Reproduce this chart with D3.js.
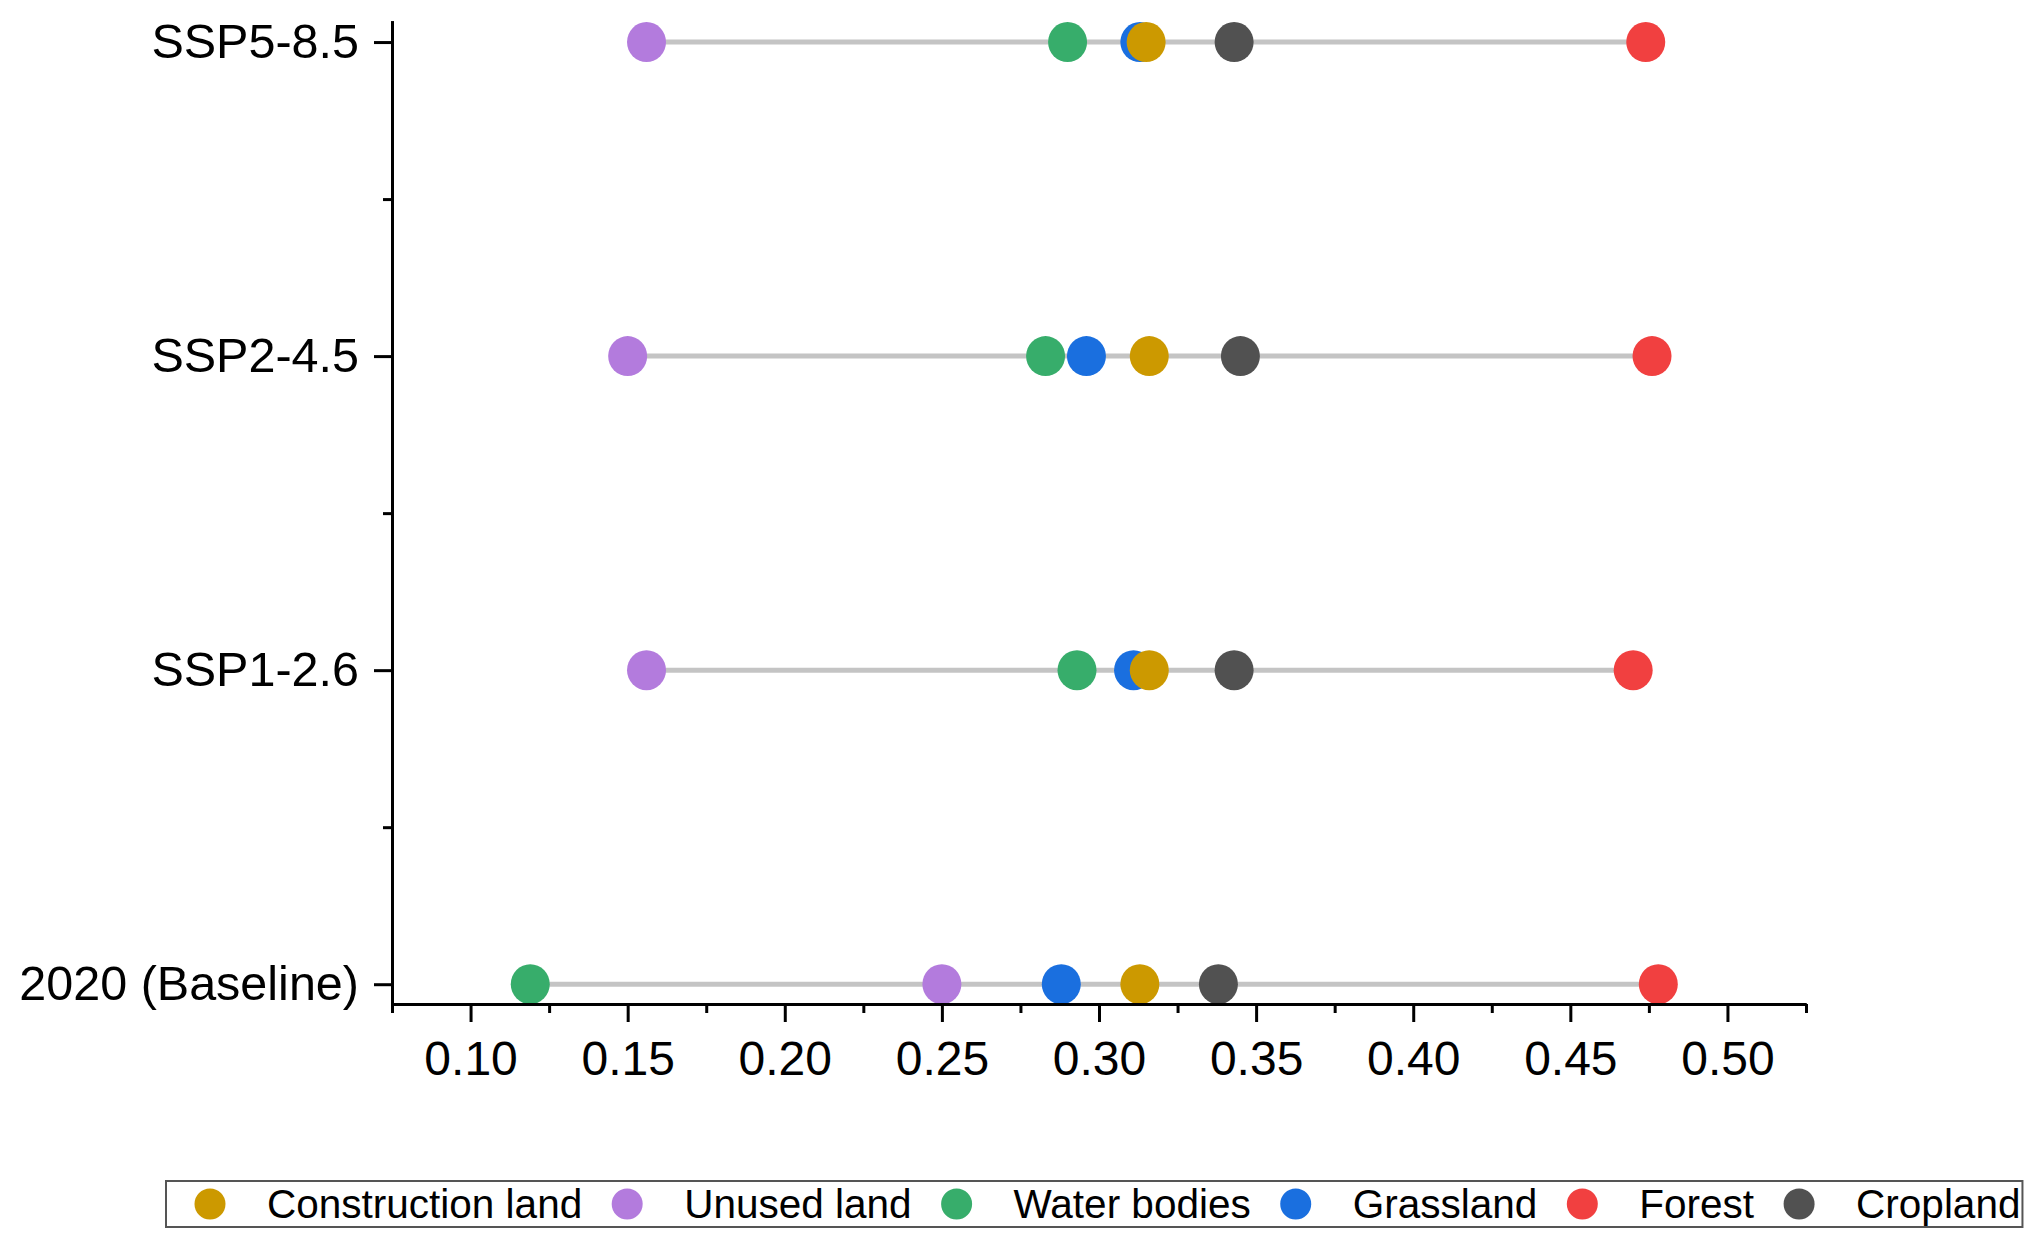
<!DOCTYPE html>
<html>
<head>
<meta charset="utf-8">
<script src="https://cdn.jsdelivr.net/npm/d3@7"></script>
<style>
    body { margin: 0; background: #fff; }
    svg { display: block; font-family: "Liberation Sans", Arial, sans-serif; }
    .axis path, .axis line { stroke: #000; stroke-width: 3; }
</style>
</head>
<body>
<div id="chart"></div>
<script>
// Scenarios, bottom to top
const scenarios = ["2020 (Baseline)", "SSP1-2.6", "SSP2-4.5", "SSP5-8.5"];

// Land types in legend order
const landTypes = ["Construction land", "Unused land", "Water bodies", "Grassland", "Forest", "Cropland"];
const landColors = ["#cc9900", "#b37bdd", "#37ad6b", "#1a6fdf", "#f14040", "#515151"];

// Values per land type, same order as scenarios
const constructionLand = [0.313, 0.316, 0.316, 0.315];
const unusedLand       = [0.250, 0.156, 0.150, 0.156];
const waterBodies      = [0.119, 0.293, 0.283, 0.290];
const grassland        = [0.288, 0.311, 0.296, 0.313];
const forest           = [0.478, 0.470, 0.476, 0.474];
const cropland         = [0.338, 0.343, 0.345, 0.343];

const seriesValues = [constructionLand, unusedLand, waterBodies, grassland, forest, cropland];

// x tick labels
const xMajorTicks = [0.10, 0.15, 0.20, 0.25, 0.30, 0.35, 0.40, 0.45, 0.50];
const xMinorTicks = [0.075, 0.125, 0.175, 0.225, 0.275, 0.325, 0.375, 0.425, 0.475, 0.525];

const width = 2037, height = 1244;

const svg = d3.select("#chart")
    .append("svg")
    .attr("width", width)
    .attr("height", height);

// Scales
const x = d3.scaleLinear()
    .domain([0.075, 0.525])
    .range([392, 1806]);

const y = d3.scaleLinear()
    .domain([-0.063, 3.068])
    .range([1004, 20.7]);

// Flatten into points
const points = [];
landTypes.forEach((lt, j) => {
    scenarios.forEach((s, i) => {
        points.push({ type: lt, color: landColors[j], order: j, idx: i, value: seriesValues[j][i] });
    });
});

// Range lines per scenario
const ranges = scenarios.map((s, i) => {
    const ext = d3.extent(seriesValues, v => v[i]);
    return { idx: i, min: ext[0], max: ext[1] };
});

svg.append("g")
    .selectAll("line")
    .data(ranges)
    .join("line")
    .attr("x1", d => x(d.min))
    .attr("x2", d => x(d.max))
    .attr("y1", d => y(d.idx))
    .attr("y2", d => y(d.idx))
    .attr("stroke", "#c4c4c4")
    .attr("stroke-width", 5);

// Dots (draw last legend entry first so construction sits on top)
const sorted = points.slice().sort((a, b) => b.order - a.order);
svg.append("g")
    .selectAll("ellipse")
    .data(sorted)
    .join("ellipse")
    .attr("cx", d => x(d.value))
    .attr("cy", d => y(d.idx))
    .attr("rx", 19.5)
    .attr("ry", 20)
    .attr("fill", d => d.color);

// Axes
const xMinor = d3.axisBottom(x).tickValues(xMinorTicks).tickSize(9).tickSizeOuter(0).tickFormat("");
svg.append("g")
    .attr("class", "axis")
    .attr("transform", "translate(0,1004)")
    .call(xMinor);

const xAxis = d3.axisBottom(x)
    .tickValues(xMajorTicks)
    .tickSize(18)
    .tickSizeOuter(0)
    .tickPadding(19)
    .tickFormat(d3.format(".2f"));

svg.append("g")
    .attr("class", "axis")
    .attr("transform", "translate(0,1004)")
    .call(xAxis)
    .selectAll("text")
    .attr("fill", "#000")
    .style("font-size", "48px");

const yMinor = d3.axisLeft(y).tickValues([0.5, 1.5, 2.5]).tickSize(9).tickSizeOuter(0).tickFormat("");
svg.append("g")
    .attr("class", "axis")
    .attr("transform", "translate(392,0)")
    .call(yMinor);

const yAxis = d3.axisLeft(y)
    .tickValues([0, 1, 2, 3])
    .tickSize(18)
    .tickSizeOuter(0)
    .tickPadding(15)
    .tickFormat(i => scenarios[i]);

svg.append("g")
    .attr("class", "axis")
    .attr("transform", "translate(392,0)")
    .call(yAxis)
    .selectAll("text")
    .attr("fill", "#000")
    .style("font-size", "48.5px");

// Legend
const legend = svg.append("g").attr("class", "legend");
const legendY = 1204;
let cursor = 210;
let lastEnd = 0;

landTypes.forEach((lt, j) => {
    legend.append("ellipse")
        .attr("cx", cursor)
        .attr("cy", legendY)
        .attr("rx", 15.5)
        .attr("ry", 15.5)
        .attr("fill", landColors[j]);

    const t = legend.append("text")
        .attr("x", cursor + 57)
        .attr("y", legendY)
        .attr("dy", "0.35em")
        .style("font-size", "40.5px")
        .attr("fill", "#000")
        .text(lt);

    lastEnd = cursor + 57 + t.node().getComputedTextLength();
    cursor = lastEnd + 45;
});

legend.insert("rect", ":first-child")
    .attr("x", 166)
    .attr("y", 1181)
    .attr("width", lastEnd + 2 - 166)
    .attr("height", 46)
    .attr("fill", "none")
    .attr("stroke", "#555")
    .attr("stroke-width", 2);
</script>
</body>
</html>
